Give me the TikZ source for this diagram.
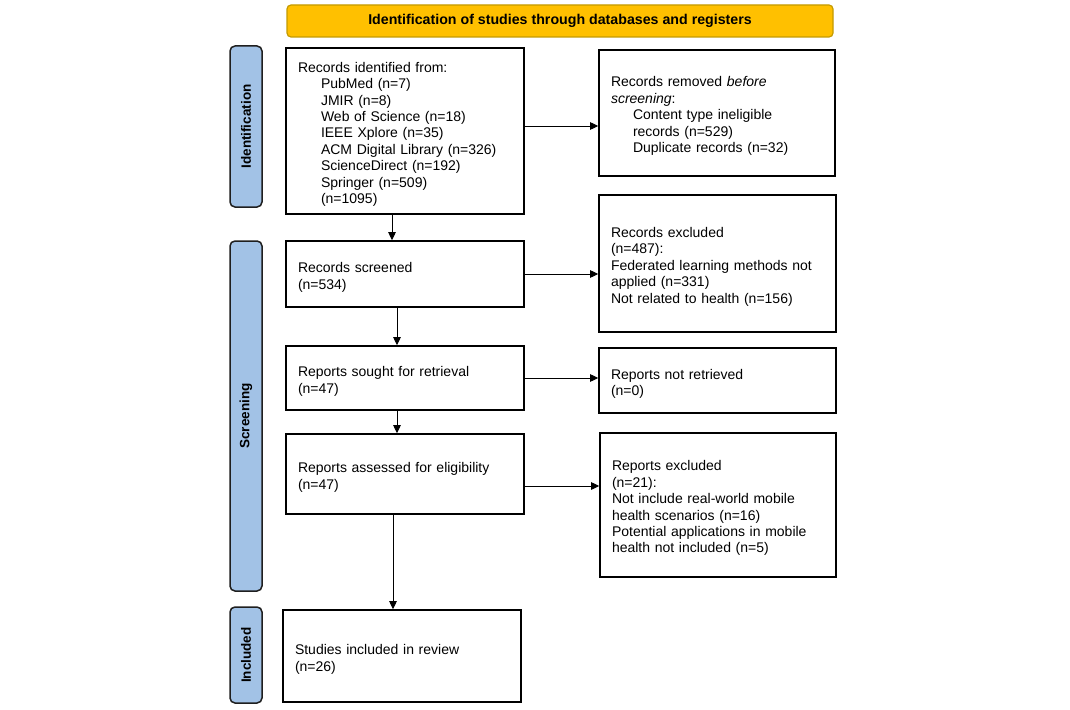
\documentclass[tikz,border=0pt]{standalone}
\usepackage{fontspec}
\setmainfont{Liberation Sans}
\usetikzlibrary{arrows.meta,calc}
\definecolor{hdrfill}{HTML}{FFC000}
\definecolor{hdrdraw}{HTML}{C49A00}
\definecolor{sidefill}{HTML}{A2C2E6}
\definecolor{sidedraw}{HTML}{1F1F1F}
\begin{document}
\begin{tikzpicture}[x=1pt,y=-1pt,
  every node/.style={font=\fontsize{14}{16.4}\selectfont},
  pbox/.style={draw=black, line width=1.6pt, rectangle, inner xsep=12pt, inner ysep=0pt, align=left,
     execute at begin node={\rule{0pt}{16.5pt}}},
  sidebar/.style={draw=sidedraw, fill=sidefill, line width=1.5pt, rounded corners=5pt, rotate=90,
     minimum height=32pt, inner sep=0pt, font=\fontsize{13.5}{16}\selectfont\bfseries},
  hdr/.style={draw=hdrdraw, fill=hdrfill, line width=1.2pt, rounded corners=4pt,
     minimum width=546pt, minimum height=32pt, inner sep=0pt, font=\fontsize{14.2}{16}\selectfont\bfseries},
  arr/.style={line width=0.9pt, -{Triangle[length=8pt,width=7.5pt]}}
]
\useasboundingbox (0,0) rectangle (1070,709);
\fill[white] (0,0) rectangle (1070,709);

\node[hdr] (hdr) at (560,21) {Identification of studies through databases and registers};

\node[sidebar, minimum width=161pt] (sid) at (246,126.5) {Identification};
\node[sidebar, minimum width=350pt] (sscr) at (246,416) {Screening};
\node[sidebar, minimum width=96pt] (sinc) at (246,655) {Included};

\node[pbox, minimum height=166pt, text width=214pt] (b1) at (405,131) {Records identified from:\\
\hspace*{23pt}PubMed (n=7)\\
\hspace*{23pt}JMIR (n=8)\\
\hspace*{23pt}Web of Science (n=18)\\
\hspace*{23pt}IEEE Xplore (n=35)\\
\hspace*{23pt}ACM Digital Library (n=326)\\
\hspace*{23pt}ScienceDirect (n=192)\\
\hspace*{23pt}Springer (n=509)\\
\hspace*{23pt}(n=1095)};

\node[pbox, minimum height=126pt, text width=212pt] (rem) at (717,113) {Records removed \textit{before}\\
\textit{screening}:\\
\hspace*{22pt}Content type ineligible\\
\hspace*{22pt}records (n=529)\\
\hspace*{22pt}Duplicate records (n=32)};

\node[pbox, minimum height=66pt, text width=214pt] (scr) at (405,274) {Records screened\\(n=534)};

\node[pbox, minimum height=137pt, text width=213pt] (excl) at (717.5,263.5) {Records excluded\\
(n=487):\\
Federated learning methods not\\
applied (n=331)\\
Not related to health (n=156)};

\node[pbox, minimum height=64pt, text width=214pt] (sou) at (405,378) {Reports sought for retrieval\\(n=47)};

\node[pbox, minimum height=65pt, text width=213pt] (nret) at (717.5,380.5) {Reports not retrieved\\(n=0)};

\node[pbox, minimum height=80pt, text width=214pt] (ass) at (405,474) {Reports assessed for eligibility\\(n=47)};

\node[pbox, minimum height=144pt, text width=212pt] (rexc) at (718,505) {Reports excluded\\
(n=21):\\
Not include real-world mobile\\
health scenarios (n=16)\\
Potential applications in mobile\\
health not included (n=5)};

\node[pbox, minimum height=92pt, text width=214pt] (inc) at (402,656) {Studies included in review\\(n=26)};

% vertical arrows
\draw[arr] ([xshift=-13pt]b1.south) -- ([xshift=-13pt]scr.north);
\draw[arr] ([xshift=-8pt]scr.south) -- ([xshift=-8pt]sou.north);
\draw[arr] ([xshift=-8pt]sou.south) -- ([xshift=-8pt]ass.north);
\draw[arr] ([xshift=-12pt]ass.south) -- ($(inc.north)+(-9pt,0)$);

% horizontal arrows
\draw[arr] ([yshift=5pt]b1.east) -- ([yshift=5pt]b1.east -| rem.west);
\draw[arr] (scr.east) -- (scr.east -| excl.west);
\draw[arr] (sou.east) -- (sou.east -| nret.west);
\draw[arr] ([yshift=-12pt]ass.east) -- ([yshift=-12pt]ass.east -| rexc.west);
\end{tikzpicture}
\end{document}
